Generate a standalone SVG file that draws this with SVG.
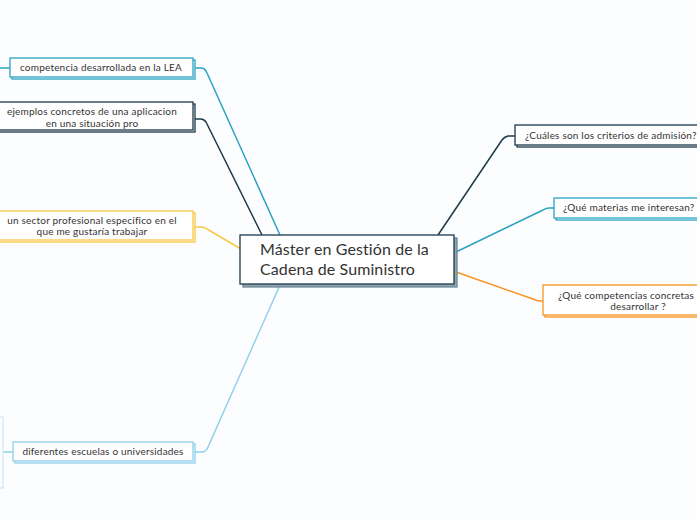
<svg xmlns="http://www.w3.org/2000/svg" width="697" height="520" viewBox="0 0 697 520">
<style>
.t{font-family:Lato,"Noto Sans",sans-serif;font-size:10px;letter-spacing:0.2px;fill:#333;}
.c{font-family:Lato,"Noto Sans",sans-serif;font-size:16px;letter-spacing:0.1px;fill:#333;}
.f{fill:#fff;stroke-width:1.3;}
.l{fill:none;stroke-width:1.5;}
.teal{stroke:#2aa3c1;}
.navy{stroke:#1b3a4b;}
.yel{stroke:#fbc846;}
.lb{stroke:#8fd0ec;}
.org{stroke:#f7931e;}
</style>
<rect width="697" height="520" fill="#fcfdfe"/>
<g id="connectors">
<path class="l teal" d="M193,68 L201,68 Q205,68 207,73 L280,235"/>
<path class="l navy" d="M193,119 L200,119 Q205,119 207,124 L262,235"/>
<path class="l yel" d="M193,227 L201,227 Q204,227 207,229 L241,249"/>
<path class="l lb" d="M193,452 L202,452 Q206,452 208,447 L280,285"/>
<path class="l navy" d="M438,235 L502,140 Q504,137 508,136 L515,136"/>
<path class="l teal" d="M456,252 L543,210 Q546,208 549,208 L554,208"/>
<path class="l org" d="M456,272 L533,299 Q537,301 540,301 L543,301"/>
<path class="l teal" d="M0,68 L10,68"/>
<path class="l lb" d="M3,452 L13,452"/>
<path fill="none" stroke="#d5ebf6" stroke-width="1.3" d="M0,417 L3,417 L3,488 L0,488"/>
</g>
<g id="central">
<rect x="243" y="238" width="214" height="49" fill="#8fa3b0" stroke="#6f8898" stroke-width="1.3"/>
<rect class="f navy" x="240" y="235" width="214" height="49"/>
<text class="c" x="260" y="255">Máster en Gestión de la</text>
<text class="c" x="260" y="275">Cadena de Suministro</text>
</g>
<g id="n1">
<rect class="f teal" x="12" y="60" width="183" height="19"/>
<rect class="f teal" x="10" y="58" width="183" height="19"/>
<text class="t" x="101" y="71" text-anchor="middle">competencia desarrollada en la LEA</text>
</g>
<g id="n2">
<rect class="f navy" x="-3" y="104" width="198" height="28"/>
<rect class="f navy" x="-5" y="102" width="198" height="28"/>
<text class="t" x="92" y="115" text-anchor="middle">ejemplos concretos de una aplicacion</text>
<text class="t" x="92" y="127" text-anchor="middle">en una situación pro</text>
</g>
<g id="n3">
<rect class="f yel" x="-3" y="213" width="198" height="29"/>
<rect class="f yel" x="-5" y="211" width="198" height="29"/>
<text class="t" x="92" y="224" text-anchor="middle">un sector profesional específico en el</text>
<text class="t" x="92" y="235" text-anchor="middle">que me gustaría trabajar</text>
</g>
<g id="n4">
<rect class="f lb" x="15" y="444" width="180" height="19"/>
<rect class="f lb" x="13" y="442" width="180" height="19"/>
<text class="t" x="103" y="455" text-anchor="middle">diferentes escuelas o universidades</text>
</g>
<g id="n5">
<rect class="f navy" x="517" y="127" width="190" height="20"/>
<rect class="f navy" x="515" y="125" width="190" height="20"/>
<text class="t" x="525" y="139">¿Cuáles son los criterios de admisión?</text>
</g>
<g id="n6">
<rect class="f teal" x="556" y="200" width="150" height="20"/>
<rect class="f teal" x="554" y="198" width="150" height="20"/>
<text class="t" x="563" y="211">¿Qué materias me interesan?</text>
</g>
<g id="n7">
<rect class="f org" x="545" y="287" width="190" height="30"/>
<rect class="f org" x="543" y="285" width="190" height="30"/>
<text class="t" x="558" y="299">¿Qué competencias concretas p</text>
<text class="t" x="638" y="310" text-anchor="middle">desarrollar ?</text>
</g>
</svg>
